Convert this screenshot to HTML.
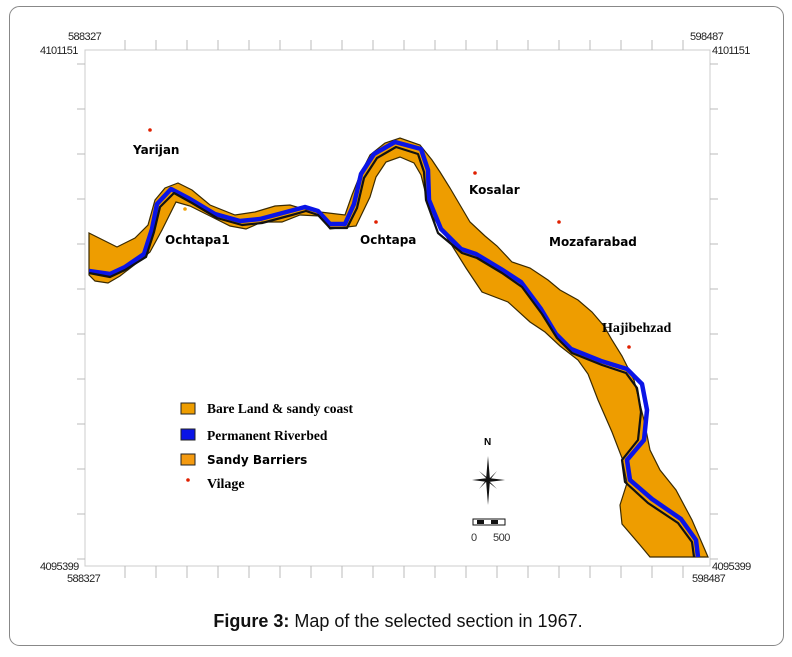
<!DOCTYPE html>
<html><head><meta charset="utf-8"><style>
body{margin:0;background:#fff;width:792px;height:652px;overflow:hidden}
</style></head><body>
<svg width="792" height="652" viewBox="0 0 792 652" font-family="Liberation Sans, sans-serif">
<rect x="9.5" y="6.5" width="774" height="639" rx="10" fill="#fff" stroke="#888"/>
<rect x="85" y="50" width="625" height="516" fill="#fff" stroke="#ccc"/>
<g id="ticks" stroke="#bbb" stroke-width="1"></g>
<g font-size="11" fill="#222" style="letter-spacing:-0.6px">
<text x="68" y="40">588327</text>
<text x="40" y="54">4101151</text>
<text x="690" y="40">598487</text>
<text x="712" y="54">4101151</text>
<text x="40" y="570">4095399</text>
<text x="67" y="582">588327</text>
<text x="712" y="570">4095399</text>
<text x="692" y="582">598487</text>
</g>
<path fill="#EE9D00" stroke="#3a2a00" stroke-width="1.2" d="M89,233 L97,237 L117,247 L135,238 L148,225 L155,200 L165,188 L178,183 L192,190 L210,205 L235,215 L255,212 L275,206 L290,205 L300,208 L320,212 L345,215 L352,195 L360,175 L370,155 L385,143 L400,138 L420,145 L432,160 L440,172 L450,188 L460,205 L470,222 L485,236 L497,246 L512,262 L530,268 L548,280 L560,290 L578,300 L592,312 L604,326 L612,340 L622,356 L634,380 L644,420 L650,450 L660,470 L676,490 L692,520 L705,550 L708,557 L650,557 L640,545 L622,524 L620,505 L627,483 L622,458 L612,432 L598,400 L588,374 L578,360 L560,346 L545,332 L530,322 L508,302 L482,292 L466,268 L456,252 L446,236 L432,216 L426,195 L421,175 L414,163 L400,157 L386,162 L376,177 L370,197 L356,226 L330,229 L320,216 L300,215 L282,222 L262,222 L246,229 L230,226 L210,216 L190,206 L176,202 L162,230 L150,252 L138,262 L120,276 L108,283 L95,281 L89,275 Z"/>
<polyline fill="none" stroke="#0a14e6" stroke-width="4.5" stroke-linejoin="round" points="89,271 110,274 125,267 144,254 152,229 157,204 171,189 190,199 215,214 240,221 260,219 290,211 305,207 318,211 330,224 345,224 354,204 361,174 374,154 395,142 421,149 428,170 429,200 441,229 461,249 476,254 501,269 521,282 541,309 556,334 571,349 601,361 627,369 642,384 647,410 644,440 627,460 630,480 652,499 681,519 696,540 698,557"/>
<polyline fill="none" stroke="#111" stroke-width="2.2" stroke-linejoin="round" points="89,273 110,277 125,270 146,257 154,232 160,207 174,193 192,203 217,218 242,225 262,223 292,215 306,211 318,215 330,228 347,228 357,208 364,178 377,158 396,147 418,154 424,172 426,200 438,233 462,253 477,258 502,273 522,287 542,314 557,338 572,353 602,365 626,373 637,388 641,412 638,440 622,460 625,482 648,503 678,523 692,542 694,557"/>
<g id="villages"></g>
<g>
<rect x="181" y="403" width="14" height="11" fill="#EE9D00" stroke="#222"/>
<text x="207" y="413" font-family="Liberation Serif, serif" font-weight="bold" font-size="13.5">Bare Land &amp; sandy coast</text>
<rect x="181" y="429" width="14" height="11" fill="#0a14e6" stroke="#222"/>
<text x="207" y="440" font-family="Liberation Serif, serif" font-weight="bold" font-size="13.5">Permanent Riverbed</text>
<rect x="181" y="454" width="14" height="11" fill="#F49A10" stroke="#222"/>
<text x="207" y="464" font-weight="bold" font-size="12" font-family="DejaVu Sans, sans-serif">Sandy Barriers</text>
<circle cx="188" cy="480" r="1.8" fill="#e02000"/>
<text x="207" y="488" font-family="Liberation Serif, serif" font-weight="bold" font-size="14">Vilage</text>
</g>
<g>
<text x="484" y="445" font-size="10" font-weight="bold">N</text>
<path d="M488,456 L490,480 L488,505 L486,480 Z M472,480 L488,478 L505,480 L488,482 Z M479,471 L489,479 L497,471 L489,481 L497,489 L487,481 L479,489 L487,479 Z" fill="#111"/>
</g>
<g>
<rect x="473" y="519" width="32" height="6" fill="#fff" stroke="#111"/>
<rect x="477" y="520" width="7" height="4" fill="#111"/><rect x="491" y="520" width="7" height="4" fill="#111"/>
<text x="471" y="541" font-size="11" fill="#333" style="letter-spacing:-0.5px">0</text>
<text x="493" y="541" font-size="11" fill="#333" style="letter-spacing:-0.5px">500</text>
</g>
<text x="398" y="627" text-anchor="middle" font-size="18" fill="#111"><tspan font-weight="bold">Figure 3:</tspan> Map of the selected section in 1967.</text>
</svg>
<script>
const villageNames=["Yarijan","Ochtapa1","Ochtapa","Kosalar","Mozafarabad","Hajibehzad"];
const villageX=[150,185,376,475,559,629];
const villageY=[130,209,222,173,222,347];
const labelX=[133,165,360,469,549,602];
const labelY=[154,244,244,194,246,332];
const ns="http://www.w3.org/2000/svg";
const vg=document.getElementById('villages');
villageNames.forEach((n,i)=>{
 const c=document.createElementNS(ns,'circle');
 c.setAttribute('cx',villageX[i]);c.setAttribute('cy',villageY[i]);c.setAttribute('r',1.8);
 c.setAttribute('fill',i===1?'#f0a000':'#e02000');
 
 
 vg.appendChild(c);
 const t=document.createElementNS(ns,'text');
 t.setAttribute('x',labelX[i]);t.setAttribute('y',labelY[i]);
 t.setAttribute('font-size',i===5?'14':'12');t.setAttribute('font-weight','bold');
 t.setAttribute('font-family',i===5?'Liberation Serif, serif':'DejaVu Sans, sans-serif');
 t.textContent=n;
 
 
 vg.appendChild(t);
});
const tg=document.getElementById('ticks');
function ln(x1,y1,x2,y2){const l=document.createElementNS(ns,'line');l.setAttribute('x1',x1);l.setAttribute('y1',y1);l.setAttribute('x2',x2);l.setAttribute('y2',y2);tg.appendChild(l);}
for(let x=125;x<705;x+=31){ln(x,40,x,50);ln(x,566,x,578);}
for(let y=64;y<560;y+=45){ln(77,y,85,y);ln(710,y,718,y);}
</script>
</body></html>
